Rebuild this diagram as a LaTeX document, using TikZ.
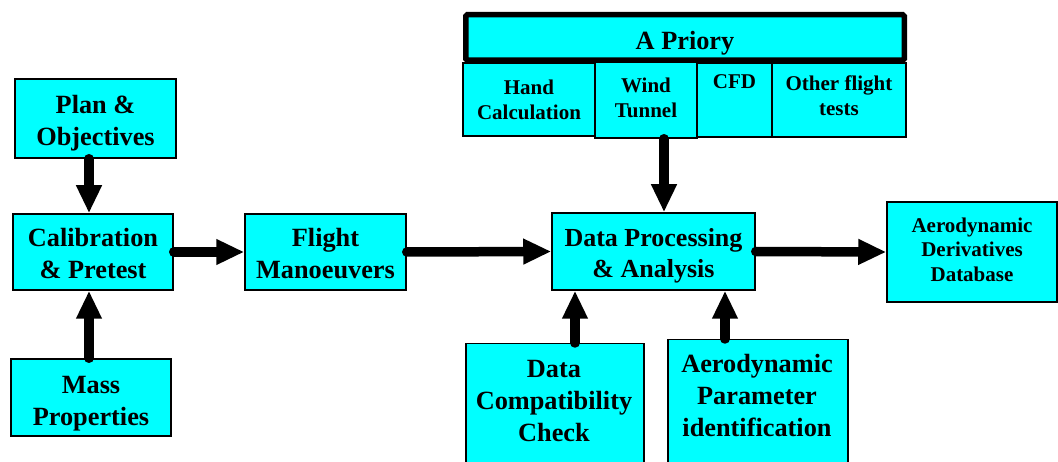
\documentclass[tikz,border=0pt]{standalone}
\usepackage{fontspec}
\setmainfont{Liberation Serif}
\usetikzlibrary{arrows.meta}
\definecolor{boxcyan}{RGB}{0,255,255}
% invisible rule giving every first line the same height
\newcommand{\topstrut}{\rule{0pt}{22pt}}
\tikzset{
  box/.style={draw=black, line width=1.5pt, fill=boxcyan, inner sep=0pt},
  % text blocks hang from the fixed first-line height, so the node's north
  % edge sits 22pt above the first baseline
  txt/.style={inner sep=0pt, align=center, anchor=north},
  bigtxt/.style={txt, font=\bfseries\fontsize{26.3}{32}\selectfont},
  dptxt/.style={txt, font=\bfseries\fontsize{26}{31}\selectfont},
  smalltxt/.style={txt, font=\bfseries\fontsize{21}{25.5}\selectfont},
  dbtxt/.style={txt, font=\bfseries\fontsize{21}{24.5}\selectfont},
  arr/.style={line width=9.5pt, line cap=round, -{Triangle[length=28pt,width=24pt]}},
}
\begin{document}
\begin{tikzpicture}[x=1pt,y=-1pt]
\useasboundingbox (0,0) rectangle (1058,462);
\clip (0,0) rectangle (1058,462);

% left column
\node[box, minimum width=161pt, minimum height=79pt] (plan) at (95.5,118.5) {};
\node[bigtxt] (planT) at (95.5,91) {\topstrut Plan \&\\Objectives};
\node[box, minimum width=160pt, minimum height=76pt] (calib) at (93,252) {};
\node[bigtxt] (calibT) at (93,224) {\topstrut Calibration\\\& Pretest};
\node[box, minimum width=160pt, minimum height=77pt] (mass) at (91,397.5) {};
\node[bigtxt] (massT) at (91,371) {\topstrut Mass\\Properties};

% main chain
\node[box, minimum width=161pt, minimum height=76pt] (flight) at (325.5,252) {};
\node[bigtxt] (flightT) at (325.5,224) {\topstrut Flight\\Manoeuvers};
\node[box, minimum width=203pt, minimum height=77pt] (dp) at (653.5,251.5) {};
\node[dptxt] (dpT) at (653.5,224) {\topstrut Data Processing\\\& Analysis};
\node[box, minimum width=170pt, minimum height=100pt] (db) at (972,252) {};
\node[dbtxt] (dbT) at (972,210) {\topstrut Aerodynamic\\Derivatives\\Database};

% a priori sources
\node[box, minimum width=132pt, minimum height=73pt] (hand) at (529,99.5) {};
\node[smalltxt] (handT) at (529,72) {\topstrut Hand\\Calculation};
\node[box, minimum width=102pt, minimum height=76pt] (wind) at (646,100) {};
\node[smalltxt] (windT) at (646,70) {\topstrut Wind\\Tunnel};
\node[box, minimum width=75pt, minimum height=74pt] (cfd) at (734.5,100) {};
\node[smalltxt] (cfdT) at (734.5,66) {\topstrut CFD};
\node[box, minimum width=134pt, minimum height=74pt] (other) at (839,100) {};
\node[smalltxt] (otherT) at (839,68) {\topstrut Other flight\\tests};
\node[draw=black, line width=5.5pt, rounded corners=1.5pt, fill=boxcyan, inner sep=0pt,
      minimum width=438.5pt, minimum height=45.5pt] (apriori) at (685,37.5) {};
\node[bigtxt] (aprioriT) at (685,27) {\topstrut A Priory};

% supporting analyses
\node[box, minimum width=178pt, minimum height=140pt, anchor=north west] (dc) at (465,343) {};
\node[bigtxt] (dcT) at (554,355) {\topstrut Data\\Compatibility\\Check};
\node[box, minimum width=180pt, minimum height=140pt, anchor=north west] (ap) at (667,339) {};
\node[bigtxt] (apT) at (757,350) {\topstrut Aerodynamic\\Parameter\\identification};

% connector columns
\coordinate (xl) at (89,0);
\coordinate (xw) at (664,0);
\coordinate (xc) at (575,0);
\coordinate (xa) at (725,0);

% connectors
\draw[arr] (plan.south -| xl) -- (calib.north -| xl);
\draw[arr] (mass.north -| xl) -- (calib.south -| xl);
\draw[arr] (calib.east) -- (flight.west);
\draw[arr] (flight.east) -- (dp.west);
\draw[arr] (dp.east) -- (db.west);
\draw[arr] (wind.south -| xw) -- (dp.north -| xw);
\draw[arr] (dc.north -| xc) -- (dp.south -| xc);
\draw[arr] (ap.north -| xa) -- (dp.south -| xa);
\end{tikzpicture}
\end{document}
